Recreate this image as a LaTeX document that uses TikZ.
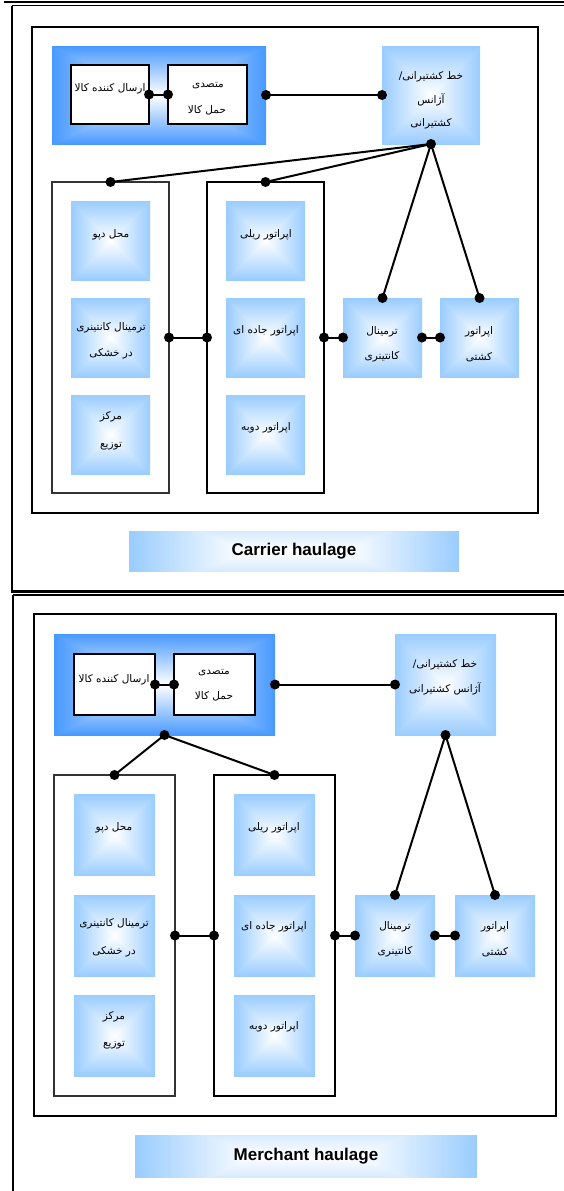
\documentclass[tikz,border=0pt]{standalone}
\usepackage{fontspec}
\setmainfont{Liberation Sans}
\newfontfamily\fa[Script=Arabic]{DejaVu Sans}
\TeXXeTstate=1
\newcommand\rtl[1]{\beginR #1\endR}

% light blue box: white centre fading to light blue at the edges
\pgfdeclarefunctionalshading{lightboxshade}{\pgfpoint{0bp}{0bp}}{\pgfpoint{100bp}{100bp}}{}{
  50 sub abs exch 50 sub abs
  2 copy lt {exch} if pop
  25 div dup 1 gt {pop 1} if
  dup 0.4 mul 1 exch sub
  exch dup 0.2 mul 1 exch sub
  exch 0 mul 1 exch sub
}
% stronger blue for the shipper/forwarder group
\pgfdeclarefunctionalshading{groupshade}{\pgfpoint{0bp}{0bp}}{\pgfpoint{100bp}{100bp}}{}{
  50 sub abs exch 50 sub abs
  2 copy lt {exch} if pop
  25 div dup 1 gt {pop 1} if
  dup 0.72 mul 1 exch sub
  exch dup 0.4 mul 1 exch sub
  exch 0 mul 1 exch sub
}
% caption bar: mostly horizontal fade
\pgfdeclarefunctionalshading{captionshade}{\pgfpoint{0bp}{0bp}}{\pgfpoint{100bp}{100bp}}{}{
  50 sub abs 25 div 0.4 mul
  exch 50 sub abs 25 div 0.3 sub 0.7 div dup 0 lt {pop 0} if
  2 copy lt {exch} if pop
  dup 1 gt {pop 1} if
  dup 0.4 mul 1 exch sub
  exch dup 0.2 mul 1 exch sub
  exch 0 mul 1 exch sub
}

\begin{document}
\begin{tikzpicture}[x=1pt,y=-1pt,
  every node/.style={inner sep=0pt, outer sep=0pt},
  wbox/.style={draw, line width=1.6pt, fill=white, rectangle},
  lbox/.style={rectangle, shade, shading=lightboxshade},
  gbox/.style={rectangle, shade, shading=groupshade},
  capbox/.style={rectangle, shade, shading=captionshade, font=\bfseries\fontsize{17}{20}\selectfont},
  leftgroup/.style={draw=black!80, line width=1.3pt, rectangle},
  midgroup/.style={draw=black, line width=1.9pt, rectangle},
  frameline/.style={line width=2pt},
  panel/.style={draw, line width=1.7pt},
  link/.style={line width=2pt},
  dotmark/.style={fill=black},
  ptext/.style={font=\fa\fontsize{10.5}{12}\selectfont}
]
\useasboundingbox (0,0) rectangle (564,1191);

% ---------- outer frames ----------
\draw[line width=2pt] (4,1.5) -- (564,1.5);
\draw[line width=1.6pt] (12,5.5) -- (564,5.5);
\draw[frameline] (12,5.5) -- (12,591);
\draw[line width=3pt] (11,591) -- (564,591);
\draw[frameline] (13,594.5) -- (564,594.5);
\draw[frameline] (13,594.5) -- (13,1191);

% =============== Carrier haulage ===============
\draw[panel] (32,27) rectangle (538,513);

\node[gbox, minimum width=214pt, minimum height=98pt] (bigT) at (159,95) {};
\node[wbox, minimum width=78pt, minimum height=59pt] (shipperT) at (110,94.5) {};
\node[wbox, minimum width=79pt, minimum height=59pt] (fwdT) at (207.5,94.5) {};
\node[lbox, minimum width=98pt, minimum height=98pt] (lineT) at (431,95) {};

\node[leftgroup, minimum width=117pt, minimum height=311pt] (inlandT) at (110.5,337.5) {};
\node[midgroup, minimum width=117pt, minimum height=311pt] (opsT) at (265.5,337.5) {};

\node[lbox, minimum width=79pt, minimum height=79pt] (depotT) at (110.5,240.5) {};
\node[lbox, minimum width=79pt, minimum height=79pt] (icdT) at (110.5,337.5) {};
\node[lbox, minimum width=79pt, minimum height=79pt] (distT) at (110.5,434.5) {};
\node[lbox, minimum width=79pt, minimum height=79pt] (railT) at (265.5,240.5) {};
\node[lbox, minimum width=79pt, minimum height=79pt] (roadT) at (265.5,337.5) {};
\node[lbox, minimum width=79pt, minimum height=79pt] (bargeT) at (265.5,434.5) {};
\node[lbox, minimum width=79pt, minimum height=79pt] (termT) at (382.5,337.5) {};
\node[lbox, minimum width=79pt, minimum height=79pt] (shipopT) at (479.5,337.5) {};

\node[capbox, minimum width=330pt, minimum height=40pt] (capT) at (294,551) {Carrier haulage};

% texts
\node[ptext] (tShipperT) at (110,89) {\rtl{ارسال کننده کالا}};
\node[ptext] (tFwdT1) at (208,86) {\rtl{متصدی}};
\node[ptext] (tFwdT2) at (207,110) {\rtl{حمل کالا}};
\node[ptext] (tLineT1) at (431,77) {\rtl{خط کشتیرانی/}};
\node[ptext] (tLineT2) at (431,100) {\rtl{آژانس}};
\node[ptext] (tLineT3) at (431,124) {\rtl{کشتیرانی}};
\node[ptext] (tDepotT) at (111,235) {\rtl{محل دپو}};
\node[ptext] (tIcdT1) at (111,328) {\rtl{ترمینال کانتینری}};
\node[ptext] (tIcdT2) at (111,354) {\rtl{در خشکی}};
\node[ptext] (tDistT1) at (111,417) {\rtl{مرکز}};
\node[ptext] (tDistT2) at (111,446) {\rtl{توزیع}};
\node[ptext] (tRailT) at (266,235) {\rtl{اپراتور ریلی}};
\node[ptext] (tRoadT) at (266,331) {\rtl{اپراتور جاده ای}};
\node[ptext] (tBargeT) at (266,428) {\rtl{اپراتور دوبه}};
\node[ptext] (tTermT1) at (382,332) {\rtl{ترمینال}};
\node[ptext] (tTermT2) at (382,357) {\rtl{کانتینری}};
\node[ptext] (tShipT1) at (479,332) {\rtl{اپراتور}};
\node[ptext] (tShipT2) at (479,357) {\rtl{کشتی}};

% connectors
\draw[link] (shipperT.east) -- (fwdT.west);
\draw[link] (bigT.east) -- (lineT.west);
\draw[link] (lineT.south) -- (inlandT.north);
\draw[link] (lineT.south) -- (opsT.north);
\draw[link] (lineT.south) -- (termT.north);
\draw[link] (lineT.south) -- (shipopT.north);
\draw[link] (inlandT.east) -- (opsT.west);
\draw[link] (opsT.east) -- (termT.west);
\draw[link] (termT.east) -- (shipopT.west);
\foreach \p in {shipperT.east, fwdT.west, bigT.east, lineT.west, lineT.south,
  inlandT.north, opsT.north, termT.north, shipopT.north, inlandT.east,
  opsT.west, opsT.east, termT.west, termT.east, shipopT.west}
  \fill[dotmark] (\p) circle (5pt);

% =============== Merchant haulage ===============
\draw[panel] (34,614) rectangle (556,1116);

\node[gbox, minimum width=221pt, minimum height=101pt] (bigB) at (164.5,684.5) {};
\node[wbox, minimum width=81pt, minimum height=61pt] (shipperB) at (114.5,684.5) {};
\node[wbox, minimum width=81pt, minimum height=61pt] (fwdB) at (214.5,684.5) {};
\node[lbox, minimum width=101pt, minimum height=101pt] (lineB) at (445.5,684.5) {};

\node[leftgroup, minimum width=121pt, minimum height=321pt] (inlandB) at (114.5,935.5) {};
\node[midgroup, minimum width=121pt, minimum height=321pt] (opsB) at (274.5,935.5) {};

\node[lbox, minimum width=81pt, minimum height=81pt] (depotB) at (114.5,835) {};
\node[lbox, minimum width=81pt, minimum height=81pt] (icdB) at (114.5,935.5) {};
\node[lbox, minimum width=81pt, minimum height=81pt] (distB) at (114.5,1035.5) {};
\node[lbox, minimum width=81pt, minimum height=81pt] (railB) at (274.5,835) {};
\node[lbox, minimum width=81pt, minimum height=81pt] (roadB) at (274.5,935.5) {};
\node[lbox, minimum width=81pt, minimum height=81pt] (bargeB) at (274.5,1035.5) {};
\node[lbox, minimum width=80pt, minimum height=81pt] (termB) at (395,935.5) {};
\node[lbox, minimum width=80pt, minimum height=81pt] (shipopB) at (495,935.5) {};

\node[capbox, minimum width=342pt, minimum height=42pt] (capB) at (306,1156) {Merchant haulage};

% texts
\node[ptext] (tShipperB) at (114,680) {\rtl{ارسال کننده کالا}};
\node[ptext] (tFwdB1) at (214,673) {\rtl{متصدی}};
\node[ptext] (tFwdB2) at (214,696) {\rtl{حمل کالا}};
\node[ptext] (tLineB1) at (445,665) {\rtl{خط کشتیرانی/}};
\node[ptext] (tLineB2) at (445,689) {\rtl{آژانس کشتیرانی}};
\node[ptext] (tDepotB) at (114,828) {\rtl{محل دپو}};
\node[ptext] (tIcdB1) at (114,924) {\rtl{ترمینال کانتینری}};
\node[ptext] (tIcdB2) at (114,952) {\rtl{در خشکی}};
\node[ptext] (tDistB1) at (114,1017) {\rtl{مرکز}};
\node[ptext] (tDistB2) at (114,1045) {\rtl{توزیع}};
\node[ptext] (tRailB) at (274,828) {\rtl{اپراتور ریلی}};
\node[ptext] (tRoadB) at (274,927) {\rtl{اپراتور جاده ای}};
\node[ptext] (tBargeB) at (274,1027) {\rtl{اپراتور دوبه}};
\node[ptext] (tTermB1) at (395,927) {\rtl{ترمینال}};
\node[ptext] (tTermB2) at (395,952) {\rtl{کانتینری}};
\node[ptext] (tShipB1) at (495,927) {\rtl{اپراتور}};
\node[ptext] (tShipB2) at (495,952) {\rtl{کشتی}};

% connectors
\draw[link] (shipperB.east) -- (fwdB.west);
\draw[link] (bigB.east) -- (lineB.west);
\draw[link] (bigB.south) -- (inlandB.north);
\draw[link] (bigB.south) -- (opsB.north);
\draw[link] (lineB.south) -- (termB.north);
\draw[link] (lineB.south) -- (shipopB.north);
\draw[link] (inlandB.east) -- (opsB.west);
\draw[link] (opsB.east) -- (termB.west);
\draw[link] (termB.east) -- (shipopB.west);
\foreach \p in {shipperB.east, fwdB.west, bigB.east, lineB.west, bigB.south,
  lineB.south, inlandB.north, opsB.north, termB.north, shipopB.north,
  inlandB.east, opsB.west, opsB.east, termB.west, termB.east, shipopB.west}
  \fill[dotmark] (\p) circle (5pt);
\end{tikzpicture}
\end{document}
